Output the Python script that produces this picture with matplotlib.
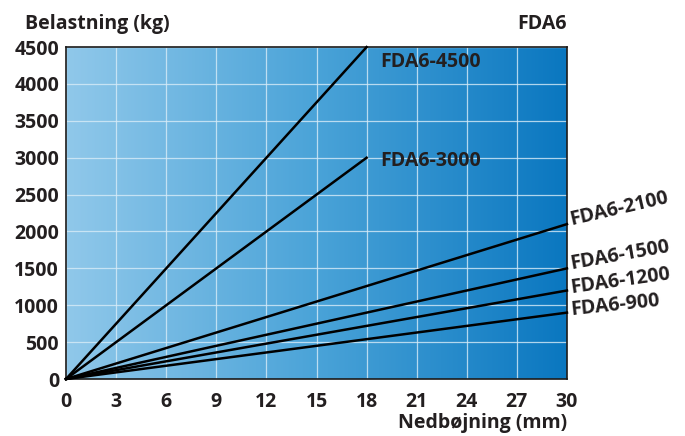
import numpy as np
import matplotlib.pyplot as plt
from matplotlib.colors import LinearSegmentedColormap

# Data: max deflection (mm) and load (kg) per spring
models = ['FDA6-4500', 'FDA6-3000', 'FDA6-2100', 'FDA6-1500', 'FDA6-1200', 'FDA6-900']
deflection_end = [18, 18, 30, 30, 30, 30]
load_end = [4500, 3000, 2100, 1500, 1200, 900]

x_ticks = [0, 3, 6, 9, 12, 15, 18, 21, 24, 27, 30]
y_ticks = [0, 500, 1000, 1500, 2000, 2500, 3000, 3500, 4000, 4500]

plt.rcParams['font.family'] = ['Open Sans', 'DejaVu Sans']
plt.rcParams['font.weight'] = 'bold'
txt = '#231f20'
fs = 14

fig = plt.figure(figsize=(6.85, 4.36), dpi=100)
ax = fig.add_axes([0.0964, 0.1307, 0.7313, 0.7613])

# horizontal blue gradient background
cmap = LinearSegmentedColormap.from_list('bg', ['#90c8ea', '#4aa3d8', '#0a77c0'])
grad = np.linspace(0, 1, 256).reshape(1, -1)
ax.imshow(grad, cmap=cmap, aspect='auto', extent=[0, 30, 0, 4500], zorder=0)

ax.set_xlim(0, 30)
ax.set_ylim(0, 4500)
ax.set_xticks(x_ticks)
ax.set_yticks(y_ticks)
ax.grid(True, color='#d8ecf8', linewidth=0.9, alpha=0.8, zorder=1)
ax.tick_params(length=0, labelsize=fs, labelcolor=txt)
ax.tick_params(axis='x', pad=9)
ax.tick_params(axis='y', pad=5)
for lab in ax.get_xticklabels() + ax.get_yticklabels():
    lab.set_fontweight('bold')
for s in ax.spines.values():
    s.set_color('#1a1a1a')
    s.set_linewidth(1.2)

for name, xe, ye in zip(models, deflection_end, load_end):
    ax.plot([0, xe], [0, ye], color='black', linewidth=1.8, zorder=3, clip_on=False)

# labels for the lines
ax.text(18.8, 4300, 'FDA6-4500', fontsize=fs, fontweight='bold', color=txt, va='center')
ax.text(18.8, 2950, 'FDA6-3000', fontsize=fs, fontweight='bold', color=txt, va='center')
side = [('FDA6-2100', 2150, 13), ('FDA6-1500', 1560, 10),
        ('FDA6-1200', 1230, 8), ('FDA6-900', 930, 6)]
for name, yv, rot in side:
    ax.text(30.2, yv, name, fontsize=fs, fontweight='bold', color=txt,
            va='center', ha='left', rotation=rot, rotation_mode='anchor')

fig.text(0.036, 0.945, 'Belastning (kg)', fontsize=fs, fontweight='bold', color=txt, va='center')
fig.text(0.828, 0.945, 'FDA6', fontsize=fs, fontweight='bold', color=txt, va='center', ha='right')
fig.text(0.828, 0.006, 'Nedbøjning (mm)', fontsize=fs, fontweight='bold', color=txt, va='bottom', ha='right')

fig.savefig('out.png', dpi=100)
